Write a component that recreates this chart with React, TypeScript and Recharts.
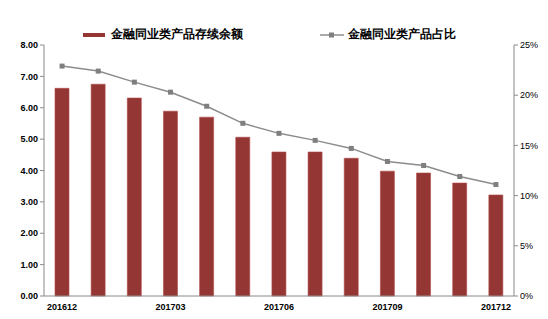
import { ComposedChart, Bar, Line, XAxis, YAxis, Legend } from 'recharts';

const months = [
  '201612', '201701', '201702', '201703', '201704', '201705', '201706',
  '201707', '201708', '201709', '201710', '201711', '201712',
];
const balance = [6.62, 6.75, 6.31, 5.89, 5.7, 5.06, 4.59, 4.59, 4.39, 3.98, 3.92, 3.6, 3.22];
const share = [22.9, 22.4, 21.3, 20.3, 18.9, 17.2, 16.2, 15.5, 14.7, 13.4, 13.0, 11.9, 11.1];
const leftTicks = [0, 1, 2, 3, 4, 5, 6, 7, 8];
const rightTicks = [0, 5, 10, 15, 20, 25];

const BAR_NAME = '金融同业类产品存续余额';
const LINE_NAME = '金融同业类产品占比';

const FONT = '"Liberation Sans", Arial, sans-serif';
const BAR_COLOR = '#943634';
const LINE_COLOR = '#8c8c8c';
const AXIS_COLOR = '#8a8a8a';

function LegendBox() {
  const text = { fontFamily: FONT, fontSize: 12, fontWeight: 700, color: '#000' };
  return (
    <div style={{ height: 26, position: 'relative' }}>
      <div style={{ position: 'absolute', left: 83, top: 7, display: 'flex', alignItems: 'center' }}>
        <span style={{ display: 'inline-block', width: 22, height: 4, background: BAR_COLOR, marginRight: 6 }} />
        <span style={text}>{BAR_NAME}</span>
      </div>
      <div style={{ position: 'absolute', left: 320, top: 7, display: 'flex', alignItems: 'center' }}>
        <svg width={24} height={8} style={{ marginRight: 4 }}>
          <line x1={0} y1={4} x2={24} y2={4} stroke={LINE_COLOR} strokeWidth={1.5} />
          <rect x={9} y={1.5} width={5} height={5} fill="#7f7f7f" />
        </svg>
        <span style={text}>{LINE_NAME}</span>
      </div>
    </div>
  );
}

const SquareDot = (props: any) => {
  const { cx, cy } = props;
  if (cx == null || cy == null) return null;
  return <rect x={cx - 2.5} y={cy - 2.5} width={5} height={5} fill="#7f7f7f" />;
};

export default function App() {
  const data = months.map((m, i) => ({ month: m, balance: balance[i], share: share[i] }));

  return (
    <div style={{ position: 'absolute', left: 0, top: 0, width: 548, height: 319, background: '#fff' }}>
      <ComposedChart
        width={548}
        height={319}
        data={data}
        margin={{ top: 19, right: 0, bottom: 0, left: 0 }}
        barCategoryGap={0}
      >
        <Legend verticalAlign="top" align="left" height={26} content={() => <LegendBox />} />
        <XAxis
          dataKey="month"
          interval={2}
          height={23}
          axisLine={{ stroke: AXIS_COLOR }}
          tickLine={false}
          tick={{ fontFamily: FONT, fontSize: 9, fontWeight: 700, fill: '#000' }}
          tickMargin={2}
        />
        <YAxis
          yAxisId="left"
          width={44}
          domain={[0, 8]}
          ticks={leftTicks}
          tickFormatter={(v: number) => v.toFixed(2)}
          axisLine={{ stroke: AXIS_COLOR }}
          tickLine={{ stroke: AXIS_COLOR }}
          tickSize={4}
          tick={{ fontFamily: FONT, fontSize: 9, fontWeight: 700, fill: '#000' }}
        />
        <YAxis
          yAxisId="right"
          orientation="right"
          width={34}
          domain={[0, 25]}
          ticks={rightTicks}
          tickFormatter={(v: number) => `${v}%`}
          axisLine={{ stroke: AXIS_COLOR }}
          tickLine={{ stroke: AXIS_COLOR }}
          tickSize={4}
          tick={{ fontFamily: FONT, fontSize: 9, fill: '#000' }}
        />
        <Bar
          yAxisId="left"
          dataKey="balance"
          name={BAR_NAME}
          fill={BAR_COLOR}
          stroke="#b04a48"
          strokeWidth={0.6}
          barSize={14}
          isAnimationActive={false}
        />
        <Line
          yAxisId="right"
          dataKey="share"
          name={LINE_NAME}
          stroke={LINE_COLOR}
          strokeWidth={1.5}
          dot={<SquareDot />}
          activeDot={false}
          isAnimationActive={false}
        />
      </ComposedChart>
    </div>
  );
}
